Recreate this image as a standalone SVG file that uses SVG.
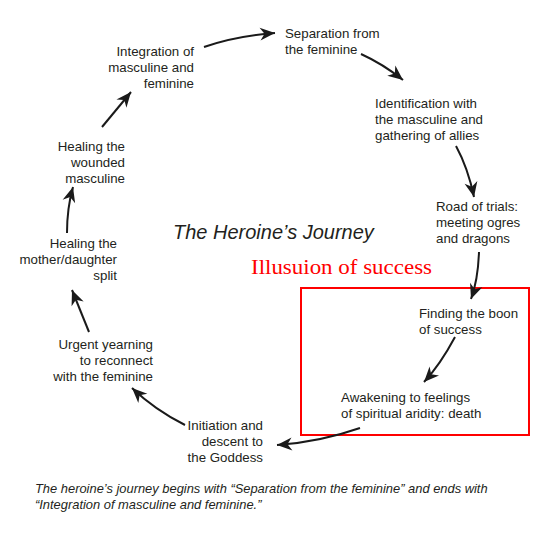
<svg xmlns="http://www.w3.org/2000/svg" width="540" height="540" viewBox="0 0 540 540">
<style>
.lbl{font-family:"Liberation Sans",Arial,sans-serif;font-size:13.3px;fill:#231f20}
.r{text-anchor:end}
.title{font-family:"Liberation Sans",Arial,sans-serif;font-size:20px;font-style:italic;fill:#231f20}
.cap{font-family:"Liberation Sans",Arial,sans-serif;font-size:12.9px;font-style:italic;fill:#231f20}
.red{font-family:"Liberation Serif","Times New Roman",serif;font-size:21px;fill:#ff0000}
.conn path{fill:none;stroke:#1a1a1a;stroke-width:2;marker-end:url(#ah)}
</style>
<defs>
<marker id="ah" markerUnits="userSpaceOnUse" markerWidth="17" markerHeight="15" viewBox="-1 -7.5 17 15" refX="15" refY="0" orient="auto">
<path d="M0,-6.5 L15,0 L0,6.5 L4.5,0 Z" fill="#1a1a1a"/>
</marker>
</defs>
<rect width="540" height="540" fill="#fff"/>
<g id="highlight">
<rect x="301" y="288" width="228" height="147" fill="none" stroke="#ff0000" stroke-width="2"/>
<text class="red" x="251" y="274" textLength="181" lengthAdjust="spacingAndGlyphs">Illusuion of success</text>
</g>
<g id="title"><text class="title" x="173" y="239">The Heroine’s Journey</text></g>
<g id="n-separation"><text class="lbl" x="285" y="38">Separation from</text><text class="lbl" x="285" y="54">the feminine</text></g>
<g id="n-identification"><text class="lbl" x="375" y="108">Identification with</text><text class="lbl" x="375" y="124">the masculine and</text><text class="lbl" x="375" y="140">gathering of allies</text></g>
<g id="n-road"><text class="lbl" x="436" y="211">Road of trials:</text><text class="lbl" x="436" y="227">meeting ogres</text><text class="lbl" x="436" y="243">and dragons</text></g>
<g id="n-boon"><text class="lbl" x="419" y="318">Finding the boon</text><text class="lbl" x="419" y="334">of success</text></g>
<g id="n-awakening"><text class="lbl" x="341" y="402">Awakening to feelings</text><text class="lbl" x="341" y="418">of spiritual aridity: death</text></g>
<g id="n-initiation"><text class="lbl r" x="263" y="430">Initiation and</text><text class="lbl r" x="263" y="446">descent to</text><text class="lbl r" x="263" y="462">the Goddess</text></g>
<g id="n-urgent"><text class="lbl r" x="153" y="349">Urgent yearning</text><text class="lbl r" x="153" y="365">to reconnect</text><text class="lbl r" x="153" y="381">with the feminine</text></g>
<g id="n-mother"><text class="lbl r" x="117" y="248">Healing the</text><text class="lbl r" x="117" y="264">mother/daughter</text><text class="lbl r" x="117" y="280">split</text></g>
<g id="n-wounded"><text class="lbl r" x="125" y="151">Healing the</text><text class="lbl r" x="125" y="167">wounded</text><text class="lbl r" x="125" y="183">masculine</text></g>
<g id="n-integration"><text class="lbl r" x="194" y="56">Integration of</text><text class="lbl r" x="194" y="72">masculine and</text><text class="lbl r" x="194" y="88">feminine</text></g>
<g class="conn" id="connectors">
<path d="M204,47 Q235,36 275,33"/>
<path d="M361,54 Q383,64 403,80"/>
<path d="M456,146 Q468,168 474,197"/>
<path d="M479,252 Q478,280 471,299"/>
<path d="M455,337 Q440,365 424,382"/>
<path d="M360,428 Q320,442 277,445"/>
<path d="M185,425 Q155,410 132,388"/>
<path d="M89,332 L72,290"/>
<path d="M67,233 Q67,208 73,187"/>
<path d="M102,127 L131,92"/>
</g>
<g id="caption">
<text class="cap" x="35" y="493">The heroine’s journey begins with “Separation from the feminine” and ends with</text>
<text class="cap" x="35" y="509">“Integration of masculine and feminine.”</text>
</g>
</svg>
